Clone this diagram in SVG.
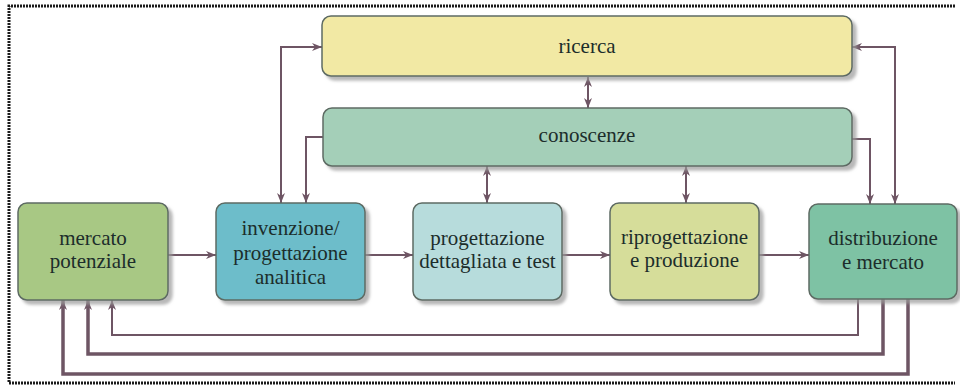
<svg xmlns="http://www.w3.org/2000/svg" width="960" height="387" viewBox="0 0 960 387">
<style>
.box{stroke:#5d6b63;stroke-width:1.5}
.lbl{font-family:"Liberation Serif","Times New Roman",serif;font-size:21px;fill:#1c2d2b;text-anchor:middle}
.c{fill:none;stroke:#6e5564;stroke-width:2}
.thick{stroke-width:3.5}
.frame{fill:none;stroke:#1a1a1a;stroke-width:3;stroke-dasharray:2 1}
</style>
<defs>
<filter id="sh" x="-10%" y="-10%" width="125%" height="130%">
<feDropShadow dx="4" dy="4" stdDeviation="1.5" flood-color="#9a9a9a" flood-opacity="0.7"/>
</filter>
<marker id="ah" viewBox="0 0 10 10" refX="10" refY="5" markerWidth="10" markerHeight="10" markerUnits="userSpaceOnUse" orient="auto-start-reverse">
<path d="M0,1 L10,5 L0,9 L3,5 z" fill="#6e5564"/>
</marker>
</defs>
<rect width="960" height="387" fill="#ffffff"/>
<path class="frame" d="M955,6 L9,6 L9,383 L955,383"/>

<g id="connectors">
<path class="c" d="M281,203 L281,47 L322,47" marker-start="url(#ah)" marker-end="url(#ah)"/>
<path class="c" d="M323,137 L306,137 L306,203" marker-end="url(#ah)"/>
<path class="c" d="M588,77 L588,108" marker-start="url(#ah)" marker-end="url(#ah)"/>
<path class="c" d="M487,166 L487,203" marker-start="url(#ah)" marker-end="url(#ah)"/>
<path class="c" d="M686,166 L686,203" marker-start="url(#ah)" marker-end="url(#ah)"/>
<path class="c" d="M895,204 L895,47 L852,47" marker-start="url(#ah)" marker-end="url(#ah)"/>
<path class="c" d="M852,139 L870,139 L870,204" marker-end="url(#ah)"/>
<path class="c" d="M168,255 L216,255" marker-end="url(#ah)"/>
<path class="c" d="M365,255 L413,255" marker-end="url(#ah)"/>
<path class="c" d="M562,255 L610,255" marker-end="url(#ah)"/>
<path class="c" d="M759,255 L809,255" marker-end="url(#ah)"/>
<path class="c" d="M858,299 L858,335 L112,335 L112,300" marker-end="url(#ah)"/>
<path class="c thick" d="M883,299 L883,354 L88,354 L88,300" marker-end="url(#ah)"/>
<path class="c thick" d="M908,299 L908,374 L63,374 L63,300" marker-end="url(#ah)"/>
</g>

<g id="ricerca">
<rect class="box" x="322" y="16" width="530" height="60" rx="9" fill="#f2e9a4" filter="url(#sh)"/>
<text class="lbl" x="587" y="53">ricerca</text>
</g>
<g id="conoscenze">
<rect class="box" x="323" y="108" width="529" height="58" rx="9" fill="#a4cfb8" filter="url(#sh)"/>
<text class="lbl" x="587" y="142">conoscenze</text>
</g>
<g id="mercato-potenziale">
<rect class="box" x="18" y="203" width="150" height="97" rx="9" fill="#a8c884" filter="url(#sh)"/>
<text class="lbl" x="93" y="245">mercato</text>
<text class="lbl" x="93" y="268">potenziale</text>
</g>
<g id="invenzione">
<rect class="box" x="216" y="203" width="149" height="97" rx="9" fill="#6dbdca" filter="url(#sh)"/>
<text class="lbl" x="290.5" y="235">invenzione/</text>
<text class="lbl" x="290.5" y="260">progettazione</text>
<text class="lbl" x="290.5" y="284">analitica</text>
</g>
<g id="progettazione-dettagliata">
<rect class="box" x="413" y="203" width="149" height="97" rx="9" fill="#b7dcdc" filter="url(#sh)"/>
<text class="lbl" x="487.5" y="245">progettazione</text>
<text class="lbl" x="487.5" y="268">dettagliata e test</text>
</g>
<g id="riprogettazione">
<rect class="box" x="610" y="203" width="149" height="97" rx="9" fill="#d6dd9a" filter="url(#sh)"/>
<text class="lbl" x="684.5" y="244">riprogettazione</text>
<text class="lbl" x="684.5" y="267">e produzione</text>
</g>
<g id="distribuzione">
<rect class="box" x="809" y="204" width="148" height="95" rx="9" fill="#7ec2a4" filter="url(#sh)"/>
<text class="lbl" x="883" y="245">distribuzione</text>
<text class="lbl" x="883" y="269">e mercato</text>
</g>
</svg>
